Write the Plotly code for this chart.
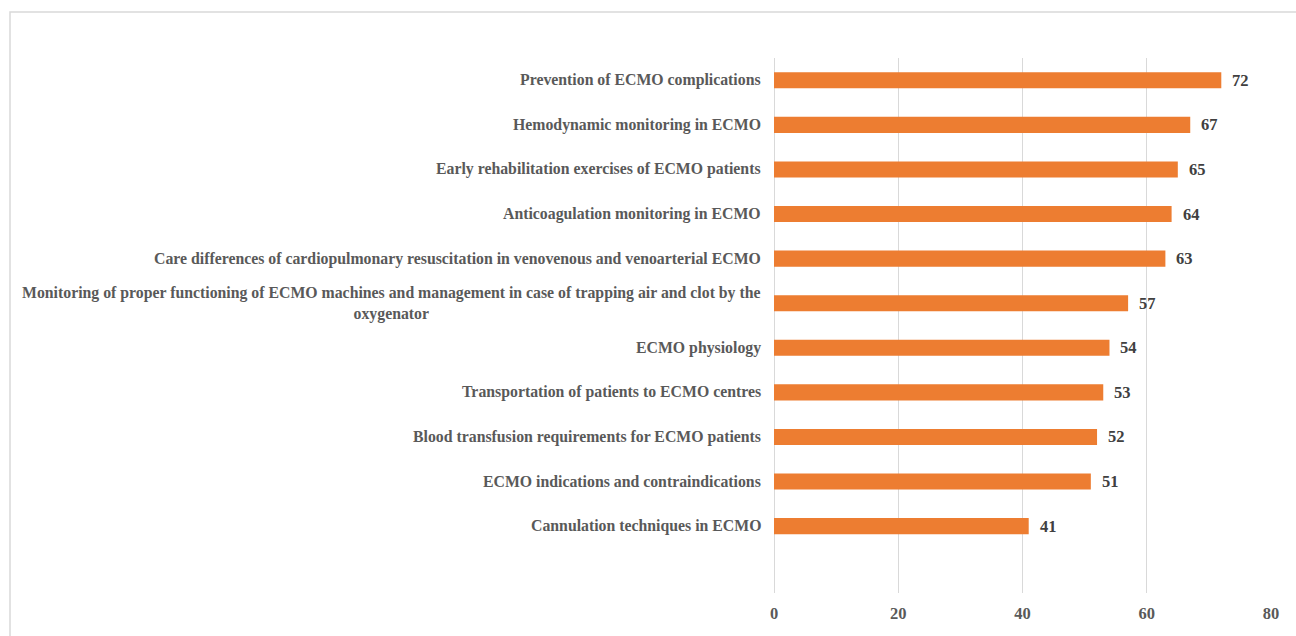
import plotly.graph_objects as go

# Training topics (top to bottom) and number of respondents
topics = [
    "Prevention of ECMO complications",
    "Hemodynamic monitoring in ECMO",
    "Early rehabilitation exercises of ECMO patients",
    "Anticoagulation monitoring in ECMO",
    "Care differences of cardiopulmonary resuscitation in venovenous and venoarterial ECMO",
    "Monitoring of proper functioning of ECMO machines and management in case of trapping air and clot by the<br>oxygenator",
    "ECMO physiology",
    "Transportation of patients to ECMO centres",
    "Blood transfusion requirements for ECMO patients",
    "ECMO indications and contraindications",
    "Cannulation techniques in ECMO",
]
counts = [72, 67, 65, 64, 63, 57, 54, 53, 52, 51, 41]
x_ticks = [0, 20, 40, 60, 80]

n = len(topics)
ypos = [n - 1 - i for i in range(n)]  # top item highest

FONT = "Liberation Serif"
BAR = "#ED7D31"
LABEL_GRAY = "#595959"
VALUE_GRAY = "#404040"
GRID = "#d9d9d9"

fig = go.Figure()
fig.add_trace(go.Bar(
    x=counts,
    y=ypos,
    orientation="h",
    width=0.36,
    marker=dict(color=BAR, line=dict(width=0)),
    hoverinfo="skip",
))

annotations = []
for t, v, y in zip(topics, counts, ypos):
    # category label to the left of the axis
    annotations.append(dict(
        x=0, xref="paper", y=y, yref="y",
        text="<b>" + t + "</b>", showarrow=False,
        xanchor="right", yanchor="middle", align="center",
        xshift=-11,
        font=dict(family=FONT, size=15.8, color=LABEL_GRAY),
    ))
    # value label at the end of each bar
    annotations.append(dict(
        x=v, xref="x", y=y, yref="y",
        text="<b>%d</b>" % v, showarrow=False,
        xanchor="left", yanchor="middle",
        xshift=9,
        font=dict(family=FONT, size=16.5, color=VALUE_GRAY),
    ))

fig.update_layout(
    width=1296, height=636,
    margin=dict(l=774, r=25, t=58, b=43),
    paper_bgcolor="white", plot_bgcolor="white",
    showlegend=False,
    font=dict(family=FONT),
    annotations=annotations,
    xaxis=dict(
        range=[0, 80],
        tickvals=x_ticks,
        ticktext=["<b>%d</b>" % t for t in x_ticks],
        showgrid=True, gridcolor=GRID, gridwidth=1.3,
        zeroline=True, zerolinecolor=GRID, zerolinewidth=1.3,
        showline=False, ticks="",
        ticklabelstandoff=8,
        tickfont=dict(family=FONT, size=16.5, color=LABEL_GRAY),
    ),
    yaxis=dict(
        range=[-1.5, n - 0.5],
        showticklabels=False, showgrid=False, zeroline=False,
        showline=False, ticks="",
    ),
    shapes=[dict(
        type="rect", xref="paper", yref="paper",
        x0=(10 - 774) / 497, x1=(1300 - 774) / 497,
        y0=(593 - 640) / 535, y1=1 + (58 - 12) / 535,
        line=dict(color=GRID, width=1.5),
        fillcolor="rgba(0,0,0,0)", layer="below",
    )],
)

fig.write_html("out.html")
